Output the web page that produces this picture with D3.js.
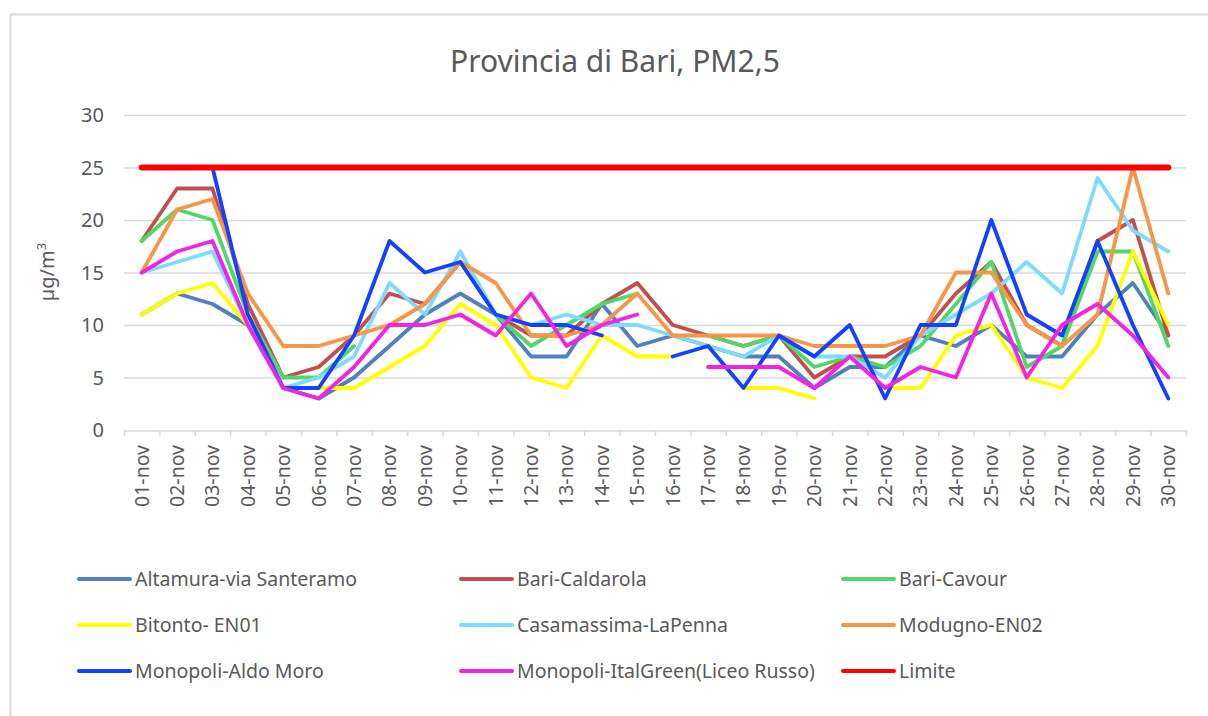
<!DOCTYPE html>
<html>
<head>
<meta charset="utf-8">
<script src="https://cdn.jsdelivr.net/npm/d3@7"></script>
<style>
  body { margin: 0; background: #fff; }
  text { font-family: "Noto Sans", "Open Sans", sans-serif; fill: #595959; }
</style>
</head>
<body>
<div id="chart"></div>
<script>
// giorni di novembre
var days = ["01-nov","02-nov","03-nov","04-nov","05-nov","06-nov","07-nov","08-nov","09-nov","10-nov",
            "11-nov","12-nov","13-nov","14-nov","15-nov","16-nov","17-nov","18-nov","19-nov","20-nov",
            "21-nov","22-nov","23-nov","24-nov","25-nov","26-nov","27-nov","28-nov","29-nov","30-nov"];

var yTicks = [0, 5, 10, 15, 20, 25, 30];

// valori PM2,5 (null = dato mancante)
var altamura     = [11,13,12,10,4,3,5,8,11,13, 11,7,7,12,8,9,8,7,7,4, 6,6,9,8,10,7,7,11,14,9];
var bariCaldarola= [18,23,23,12,5,6,9,13,12,16, 11,9,9,12,14,10,9,8,9,5, 7,7,9,13,16,10,8,18,20,9];
var bariCavour   = [18,21,20,11,5,5,8,null,null,null, 11,8,10,12,13,null,9,8,9,6, 7,6,8,12,16,6,8,17,17,8];
var bitonto      = [11,13,14,10,4,4,4,6,8,12, 10,5,4,9,7,7,null,4,4,3, null,4,4,9,10,5,4,8,17,10];
var casamassima  = [15,16,17,10,4,5,7,14,11,17, 11,10,11,10,10,9,8,7,9,7, 7,5,9,11,13,16,13,24,19,17];
var modugno      = [15,21,22,13,8,8,9,10,12,16, 14,9,9,10,13,9,9,9,9,8, 8,8,9,15,15,10,8,11,25,13];
var monopoliAM   = [null,null,25,11,4,4,9,18,15,16, 11,10,10,9,null,7,8,4,9,7, 10,3,10,10,20,11,9,18,10,3];
var monopoliIG   = [15,17,18,10,4,3,6,10,10,11, 9,13,8,10,11,null,6,6,6,4, 7,4,6,5,13,5,10,12,9,5];
var limite       = [25,25,25,25,25,25,25,25,25,25, 25,25,25,25,25,25,25,25,25,25, 25,25,25,25,25,25,25,25,25,25];

var seriesNames = ["Altamura-via Santeramo","Bari-Caldarola","Bari-Cavour","Bitonto- EN01",
                   "Casamassima-LaPenna","Modugno-EN02","Monopoli-Aldo Moro",
                   "Monopoli-ItalGreen(Liceo Russo)","Limite"];
var seriesValues = [altamura, bariCaldarola, bariCavour, bitonto, casamassima, modugno,
                    monopoliAM, monopoliIG, limite];
var seriesColors = ["#4F81BD","#C0504D","#50D767","#FFFF00","#7DDBFB","#F79646",
                    "#1241FF","#F024E2","#FF0000"];

var width = 1208, height = 716;

var svg = d3.select("#chart").append("svg")
    .attr("width", width)
    .attr("height", height);

svg.append("rect")
    .attr("width", width).attr("height", height)
    .attr("fill", "#fff");

// cornice del grafico
svg.append("rect")
    .attr("x", 10.5).attr("y", 14.5)
    .attr("width", width).attr("height", height)
    .attr("fill", "none")
    .attr("stroke", "#D9D9D9")
    .attr("stroke-width", 2);

var x = d3.scaleBand().domain(days).range([124, 1186]);
var y = d3.scaleLinear().domain([0, 30]).range([430, 115]);

// titolo
svg.append("text")
    .attr("x", 615).attr("y", 72)
    .attr("text-anchor", "middle")
    .style("font-size", "30px")
    .text("Provincia di Bari, PM2,5");

// griglia
svg.selectAll(".grid")
    .data(yTicks.filter(function(d) { return d > 0; }))
    .enter().append("line")
    .attr("x1", 124).attr("x2", 1186)
    .attr("y1", function(d) { return y(d) + 0.5; })
    .attr("y2", function(d) { return y(d) + 0.5; })
    .attr("stroke", "#D9D9D9")
    .attr("stroke-width", 1.5);

// asse x
var xAxis = d3.axisBottom(x).tickSize(0).tickFormat("");
var gx = svg.append("g")
    .attr("transform", "translate(0," + (y(0) + 0.5) + ")")
    .call(xAxis);
gx.select(".domain").attr("stroke", "#D9D9D9").attr("stroke-width", 1.5);

var edges = days.map(function(d) { return x(d); }).concat([x.range()[1]]);
svg.selectAll(".xtick")
    .data(edges)
    .enter().append("line")
    .attr("x1", function(d) { return d + 0.5; })
    .attr("x2", function(d) { return d + 0.5; })
    .attr("y1", y(0)).attr("y2", y(0) + 6)
    .attr("stroke", "#D9D9D9")
    .attr("stroke-width", 1.5);

svg.selectAll(".xlabel")
    .data(days)
    .enter().append("text")
    .attr("transform", function(d) {
        return "translate(" + (x(d) + x.bandwidth() / 2) + ",445) rotate(-90)";
    })
    .attr("dy", "0.35em")
    .attr("text-anchor", "end")
    .style("font-size", "19.5px")
    .text(function(d) { return d; });

// etichette asse y
svg.selectAll(".ylabel")
    .data(yTicks)
    .enter().append("text")
    .attr("x", 104)
    .attr("y", function(d) { return y(d); })
    .attr("dy", "0.35em")
    .attr("text-anchor", "end")
    .style("font-size", "20px")
    .text(function(d) { return d; });

var yTitle = svg.append("text")
    .attr("transform", "translate(54,272) rotate(-90)")
    .attr("text-anchor", "middle")
    .style("font-size", "20px");
yTitle.append("tspan").text("µg/m");
yTitle.append("tspan").attr("dy", "-8").style("font-size", "13px").text("3");

// linee
var line = d3.line()
    .defined(function(d) { return d != null; })
    .x(function(d, i) { return x(days[i]) + x.bandwidth() / 2; })
    .y(function(d) { return y(d); });

seriesValues.forEach(function(vals, k) {
    svg.append("path")
        .datum(vals)
        .attr("fill", "none")
        .attr("stroke", seriesColors[k])
        .attr("stroke-width", k == 8 ? 6 : 3.8)
        .attr("stroke-linejoin", "round")
        .attr("stroke-linecap", "round")
        .attr("d", line);
});

// legenda
var legend = svg.selectAll(".legend")
    .data(seriesNames)
    .enter().append("g")
    .attr("transform", function(d, i) {
        return "translate(" + (79 + (i % 3) * 382) + "," + (579 + Math.floor(i / 3) * 46) + ")";
    });

legend.append("line")
    .attr("x1", 0).attr("x2", 51)
    .attr("stroke", function(d, i) { return seriesColors[i]; })
    .attr("stroke-width", 4)
    .attr("stroke-linecap", "round");

legend.append("text")
    .attr("x", 56)
    .attr("dy", "0.35em")
    .style("font-size", "19.5px")
    .text(function(d) { return d; });
</script>
</body>
</html>
